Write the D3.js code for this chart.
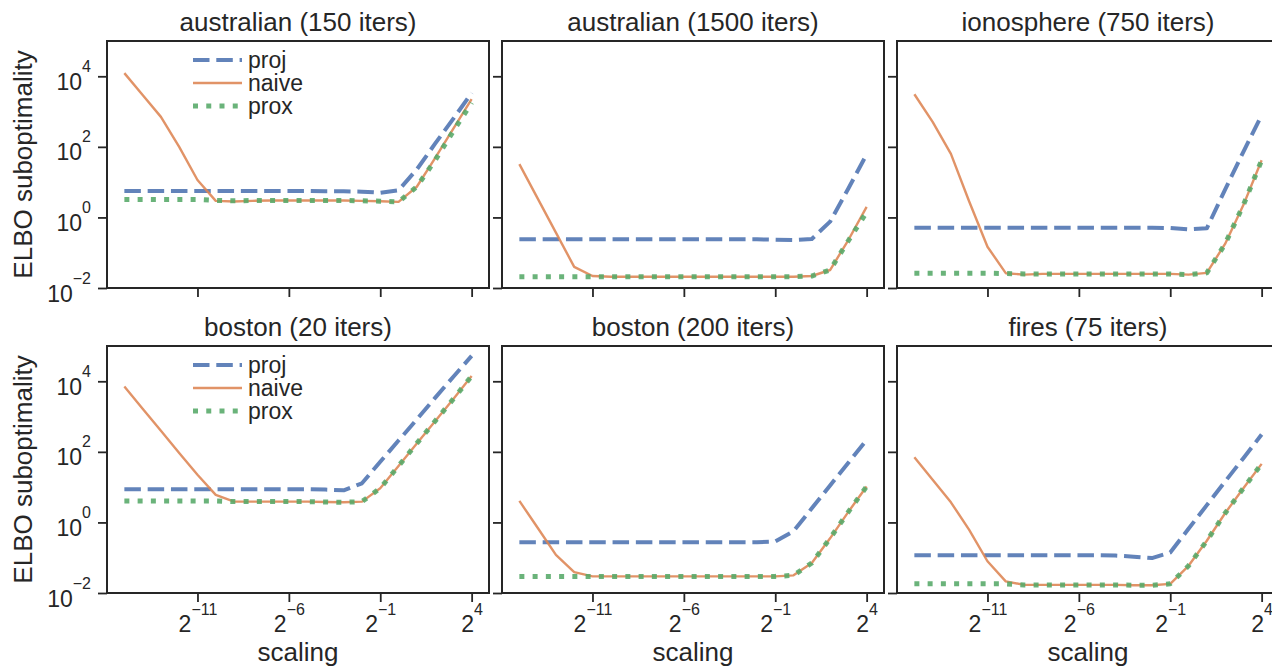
<!DOCTYPE html>
<html>
<head>
<meta charset="utf-8">
<script src="https://cdn.jsdelivr.net/npm/d3@7"></script>
<style>
  body { margin: 0; background: #fff; }
  svg { display: block; font-family: "Liberation Sans", Arial, sans-serif; }
</style>
</head>
<body>
<div id="chart"></div>
<script>
// x positions: scaling = 2^e
const scalingExp = [-15, -14, -13, -12, -11, -10, -9, -8, -7, -6, -5, -4, -3, -2, -1, 0, 1, 2, 3, 4]
const xTickExp = [-11, -6, -1, 4]
const yTickExp = [-2, 0, 2, 4]
const titles = ['australian (150 iters)', 'australian (1500 iters)', 'ionosphere (750 iters)',
  'boston (20 iters)', 'boston (200 iters)', 'fires (75 iters)']
const methods = ['proj', 'naive', 'prox']

// log10 of ELBO suboptimality
const australian150Proj = [0.75, 0.75, 0.75, 0.75, 0.75, 0.75, 0.75, 0.75, 0.75, 0.75, 0.75, 0.74, 0.74, 0.73, 0.70, 0.77, 1.36, 2.09, 2.8, 3.53]
const australian150Naive = [4.09, 3.47, 2.85, 2.0, 1.06, 0.47, 0.45, 0.47, 0.48, 0.48, 0.48, 0.48, 0.48, 0.47, 0.46, 0.44, 0.87, 1.68, 2.52, 3.35]
const australian150Prox = [0.51, 0.51, 0.51, 0.51, 0.51, 0.48, 0.47, 0.48, 0.48, 0.48, 0.48, 0.48, 0.48, 0.47, 0.46, 0.44, 0.87, 1.62, 2.45, 3.25]

const australian1500Proj = [-0.62, -0.62, -0.62, -0.62, -0.62, -0.62, -0.62, -0.62, -0.62, -0.62, -0.62, -0.62, -0.62, -0.62, -0.63, -0.64, -0.61, -0.12, 0.82, 1.79]
const australian1500Naive = [1.51, 0.54, -0.43, -1.40, -1.66, -1.68, -1.68, -1.68, -1.68, -1.68, -1.68, -1.68, -1.68, -1.68, -1.68, -1.68, -1.66, -1.49, -0.64, 0.30]
const australian1500Prox = [-1.68, -1.68, -1.68, -1.68, -1.68, -1.68, -1.68, -1.68, -1.68, -1.68, -1.68, -1.68, -1.68, -1.68, -1.68, -1.68, -1.66, -1.49, -0.66, 0.15]

const ionosphereProj = [-0.29, -0.29, -0.29, -0.29, -0.29, -0.29, -0.29, -0.29, -0.29, -0.29, -0.29, -0.29, -0.29, -0.29, -0.30, -0.34, -0.31, 0.79, 1.86, 2.9]
const ionosphereNaive = [3.49, 2.71, 1.8, 0.45, -0.83, -1.58, -1.62, -1.60, -1.60, -1.60, -1.60, -1.60, -1.60, -1.60, -1.60, -1.62, -1.57, -0.75, 0.35, 1.62]
const ionosphereProx = [-1.58, -1.58, -1.58, -1.58, -1.58, -1.59, -1.60, -1.60, -1.60, -1.60, -1.60, -1.60, -1.60, -1.60, -1.60, -1.62, -1.57, -0.75, 0.35, 1.62]

const boston20Proj = [0.94, 0.94, 0.94, 0.94, 0.94, 0.94, 0.94, 0.94, 0.94, 0.94, 0.94, 0.93, 0.91, 1.11, 1.72, 2.32, 2.92, 3.53, 4.13, 4.72]
const boston20Naive = [3.85, 3.22, 2.6, 1.97, 1.35, 0.78, 0.59, 0.59, 0.59, 0.59, 0.59, 0.58, 0.57, 0.59, 0.97, 1.60, 2.24, 2.87, 3.5, 4.15]
const boston20Prox = [0.61, 0.61, 0.61, 0.61, 0.61, 0.61, 0.59, 0.59, 0.59, 0.59, 0.59, 0.58, 0.57, 0.59, 0.97, 1.60, 2.24, 2.87, 3.5, 4.15]

const boston200Proj = [-0.56, -0.56, -0.56, -0.56, -0.56, -0.56, -0.56, -0.56, -0.56, -0.56, -0.56, -0.56, -0.56, -0.56, -0.54, -0.25, 0.40, 1.05, 1.69, 2.34]
const boston200Naive = [0.61, -0.15, -0.92, -1.41, -1.53, -1.53, -1.53, -1.53, -1.53, -1.53, -1.53, -1.53, -1.53, -1.53, -1.53, -1.50, -1.15, -0.45, 0.30, 1.02]
const boston200Prox = [-1.53, -1.53, -1.53, -1.53, -1.53, -1.53, -1.53, -1.53, -1.53, -1.53, -1.53, -1.53, -1.53, -1.53, -1.53, -1.50, -1.15, -0.45, 0.30, 1.02]

const firesProj = [-0.93, -0.93, -0.93, -0.93, -0.93, -0.93, -0.93, -0.93, -0.93, -0.93, -0.93, -0.94, -0.97, -1.01, -0.85, -0.18, 0.49, 1.16, 1.82, 2.49]
const firesNaive = [1.85, 1.21, 0.57, -0.21, -1.10, -1.67, -1.77, -1.77, -1.77, -1.77, -1.77, -1.77, -1.78, -1.78, -1.74, -1.23, -0.52, 0.26, 0.97, 1.66]
const firesProx = [-1.74, -1.74, -1.74, -1.74, -1.74, -1.74, -1.77, -1.77, -1.77, -1.77, -1.77, -1.77, -1.78, -1.78, -1.74, -1.23, -0.52, 0.26, 0.97, 1.66]

const panelSeries = [
  [australian150Proj, australian150Naive, australian150Prox],
  [australian1500Proj, australian1500Naive, australian1500Prox],
  [ionosphereProj, ionosphereNaive, ionosphereProx],
  [boston20Proj, boston20Naive, boston20Prox],
  [boston200Proj, boston200Naive, boston200Prox],
  [firesProj, firesNaive, firesProx]
]

const ink = '#262626'
const styles = {
  proj: { color: '#4c72b0', width: 4, dash: '16.5,6.8' },
  naive: { color: '#dd8452', width: 2.4, dash: null },
  prox: { color: '#55a868', width: 5, dash: '5,8.25' }
}

const width = 1272
const height = 670
const colLeft = [107, 502, 897]
const rowTop = [41, 346]
const pw = 382
const ph = 247

const svg = d3.select('#chart').append('svg').attr('width', width).attr('height', height)

const x = d3.scaleLog().base(2).domain([2 ** -15.95, 2 ** 4.95]).range([0, pw])
const y = d3.scaleLog().domain([1e-2, 1e5]).range([ph, 0])

const line = d3.line()
  .x(d => x(2 ** d[0]))
  .y(d => y(10 ** d[1]))

titles.forEach((title, i) => {
  const col = i % 3
  const row = Math.floor(i / 3)
  const g = svg.append('g').attr('transform', `translate(${colLeft[col]},${rowTop[row]})`)

  // series
  methods.forEach((m, k) => {
    const st = styles[m]
    const pts = scalingExp.map((e, j) => [e, panelSeries[i][k][j]])
    g.append('path')
      .datum(pts)
      .attr('d', line)
      .attr('fill', 'none')
      .attr('stroke', st.color)
      .attr('stroke-opacity', 0.88)
      .attr('stroke-width', st.width)
      .attr('stroke-dasharray', st.dash)
      .attr('stroke-linejoin', 'round')
  })

  // frame
  g.append('rect')
    .attr('width', pw).attr('height', ph)
    .attr('fill', 'none').attr('stroke', ink).attr('stroke-width', 2)

  // x axis
  const xa = g.append('g').attr('transform', `translate(0,${ph})`)
    .call(d3.axisBottom(x).tickValues(xTickExp.map(e => 2 ** e)).tickSize(9).tickFormat(''))
  xa.select('.domain').remove()
  xa.selectAll('.tick line').attr('stroke', ink).attr('stroke-width', 1.8)
  xa.selectAll('.tick text').remove()
  if (row === 1) {
    xa.selectAll('.tick').append('text')
      .attr('y', 39)
      .attr('text-anchor', 'middle')
      .attr('fill', ink)
      .style('font-size', '23px')
      .each(function (d) {
        const t = d3.select(this)
        t.append('tspan').text('2')
        t.append('tspan').attr('dy', -17).style('font-size', '16px')
          .text(String(Math.round(Math.log2(d))).replace('-', '\u2212'))
      })
    g.append('text')
      .attr('x', pw / 2).attr('y', ph + 68)
      .attr('text-anchor', 'middle').attr('fill', ink)
      .style('font-size', '26px')
      .text('scaling')
  }

  // y axis
  const ya = g.append('g')
    .call(d3.axisLeft(y).tickValues(yTickExp.map(e => 10 ** e)).tickSize(9).tickFormat(''))
  ya.select('.domain').remove()
  ya.selectAll('.tick line').attr('stroke', ink).attr('stroke-width', 1.8)
  ya.selectAll('.tick text').remove()
  if (col === 0) {
    ya.selectAll('.tick').append('text')
      .attr('x', -16).attr('y', 13)
      .attr('text-anchor', 'end')
      .attr('fill', ink)
      .style('font-size', '23px')
      .each(function (d) {
        const t = d3.select(this)
        t.append('tspan').text('10')
        t.append('tspan').attr('dy', -18).style('font-size', '16px')
          .text(String(Math.round(Math.log10(d))).replace('-', '\u2212'))
      })
    g.append('text')
      .attr('transform', `translate(${-75},${ph / 2}) rotate(-90)`)
      .attr('text-anchor', 'middle').attr('fill', ink)
      .style('font-size', '26px')
      .text('ELBO suboptimality')
  }

  // title
  g.append('text')
    .attr('x', pw / 2).attr('y', -10)
    .attr('text-anchor', 'middle').attr('fill', ink)
    .style('font-size', '26px')
    .text(title)

  // legend in the left column
  if (col === 0) {
    const lg = g.append('g').attr('transform', 'translate(86,19)')
    methods.forEach((m, k) => {
      const st = styles[m]
      lg.append('line')
        .attr('x1', 0).attr('x2', 49)
        .attr('y1', k * 23).attr('y2', k * 23)
        .attr('stroke', st.color)
        .attr('stroke-opacity', 0.88)
        .attr('stroke-width', st.width)
        .attr('stroke-dasharray', st.dash)
      lg.append('text')
        .attr('x', 55).attr('y', k * 23 + 8)
        .attr('fill', ink)
        .style('font-size', '23px')
        .text(m)
    })
  }
})
</script>
</body>
</html>
